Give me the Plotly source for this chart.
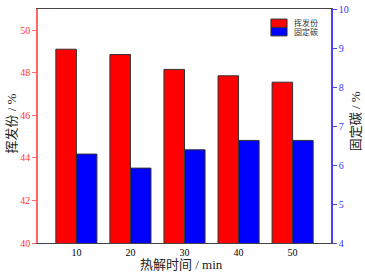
import plotly.graph_objects as go

times = [10, 20, 30, 40, 50]
volatile = [49.11, 48.86, 48.16, 47.86, 47.56]
fixed_carbon = [6.28, 5.92, 6.39, 6.63, 6.63]
names = ["挥发份", "固定碳"]
colors = ["#ff0000", "#0000ff"]

FONT = "Liberation Serif, Times New Roman, Noto Sans CJK SC, serif"
W = 3.8

fig = go.Figure()
fig.add_trace(go.Bar(x=times, y=volatile, name=names[0], width=W, offset=-W,
                     marker=dict(color=colors[0], line=dict(color="#333333", width=1)),
                     yaxis="y"))
fig.add_trace(go.Bar(x=times, y=fixed_carbon, name=names[1], width=W, offset=0,
                     marker=dict(color=colors[1], line=dict(color="#333333", width=1)),
                     yaxis="y2"))

# legend drawn as swatches + labels (compact, like the original)
shapes = []
annos = []
leg_top = 0.957
h = 0.036
for i, (nm, c) in enumerate(zip(names, colors)):
    y1 = leg_top - i * h
    y0 = y1 - h
    shapes.append(dict(type="rect", xref="paper", yref="paper", x0=0.795, x1=0.850,
                       y0=y0, y1=y1, fillcolor=c, line=dict(color="#333333", width=1)))
    annos.append(dict(text=nm, xref="paper", yref="paper", x=0.868, y=(y0 + y1) / 2,
                      xanchor="left", yanchor="middle", showarrow=False,
                      font=dict(size=8, color="#333333")))

annos += [
    dict(text="挥发份 / %", xref="paper", yref="paper", x=-0.089, y=0.51,
         xanchor="center", yanchor="middle", textangle=-90, showarrow=False,
         font=dict(size=13, color="#222222")),
    dict(text="固定碳 / %", xref="paper", yref="paper", x=1.082, y=0.52,
         xanchor="center", yanchor="middle", textangle=-90, showarrow=False,
         font=dict(size=13, color="#222222")),
    dict(text="热解时间 / min", xref="paper", yref="paper", x=0.49, y=-0.094,
         xanchor="center", yanchor="middle", showarrow=False,
         font=dict(size=13, color="#222222")),
]

fig.update_layout(
    width=365, height=276,
    margin=dict(l=38, r=34, t=9, b=33, autoexpand=False),
    paper_bgcolor="white", plot_bgcolor="white",
    font=dict(family=FONT, size=10, color="black"),
    showlegend=False,
    xaxis=dict(range=[2.9, 57.1], tickvals=times, ticktext=[str(t) for t in times],
               showline=True, linecolor="#444444", linewidth=1, mirror=True,
               ticks="", showgrid=False, zeroline=False,
               tickfont=dict(size=10)),
    yaxis=dict(range=[40, 51], tickvals=[40, 42, 44, 46, 48, 50],
               showline=True, linecolor="#ff6666", linewidth=1.5,
               ticks="outside", ticklen=4, tickcolor="#ff6666",
               tickfont=dict(color="#ff3333", size=10),
               ticklabeloverflow="allow",
               showgrid=False, zeroline=False),
    yaxis2=dict(range=[3.9999, 10.0001], tickvals=[4, 5, 6, 7, 8, 9, 10],
                overlaying="y", side="right",
                showline=True, linecolor="#4444ff", linewidth=1.5,
                ticks="outside", ticklen=4, tickcolor="#4444ff",
                tickfont=dict(color="#3333ff", size=10),
                ticklabeloverflow="allow",
                showgrid=False, zeroline=False),
    shapes=shapes,
    annotations=annos,
)

fig.write_html("out.html", config={"displayModeBar": False},
               post_script="document.body.style.margin='0';document.body.style.padding='0';")
